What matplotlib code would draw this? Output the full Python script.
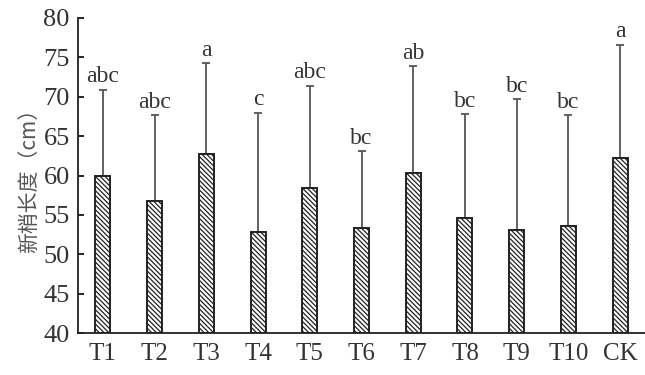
import matplotlib.pyplot as plt
import numpy as np

plt.rcParams['hatch.linewidth'] = 0.9

# 处理与数据
groups = ['T1', 'T2', 'T3', 'T4', 'T5', 'T6', 'T7', 'T8', 'T9', 'T10', 'CK']
means = [59.9, 56.8, 62.7, 52.8, 58.4, 53.3, 60.3, 54.6, 53.1, 53.6, 62.2]
err_top = [70.9, 67.7, 74.3, 68.0, 71.4, 63.1, 73.9, 67.8, 69.7, 67.7, 76.6]
letters = ['abc', 'abc', 'a', 'c', 'abc', 'bc', 'ab', 'bc', 'bc', 'bc', 'a']

serif = ['Liberation Serif', 'DejaVu Serif']
txt = '#333333'

fig = plt.figure(figsize=(6.45, 3.75), dpi=100)
ax = fig.add_axes([0.121, 0.112, 0.879, 0.840])

x = np.arange(len(groups))
means = np.array(means)
err = np.array(err_top) - means

ax.errorbar(x, means, yerr=[np.zeros_like(err), err], fmt='none',
            ecolor='#555555', elinewidth=1.3, capsize=3, capthick=1.3, zorder=1)
ax.bar(x, means - 40, bottom=40, width=0.29, color='white', edgecolor='#222222',
       linewidth=1.4, hatch='\\\\\\\\\\\\\\', zorder=2)

for xi, top, lab in zip(x, err_top, letters):
    ax.text(xi, top + 0.3, lab, ha='center', va='bottom', fontsize=17,
            family=serif, color=txt)

ax.set_xlim(-0.48, 10.48)
ax.set_ylim(40, 80)
ax.set_yticks(range(40, 81, 5))
ax.set_xticks(x)
ax.set_xticklabels(groups)

for s in ['top', 'right']:
    ax.spines[s].set_visible(False)
for s in ['left', 'bottom']:
    ax.spines[s].set_linewidth(1.3)
    ax.spines[s].set_color('#222222')

ax.tick_params(axis='y', direction='in', length=4, width=1.2, pad=6, labelsize=19,
               labelcolor=txt)
ax.tick_params(axis='x', length=0, pad=7, labelsize=18, labelcolor=txt)
for lab in ax.get_xticklabels() + ax.get_yticklabels():
    lab.set_family(serif)

ax.set_ylabel('新梢长度（cm）', fontsize=15, color='#555555',
              family=['Noto Sans CJK SC', 'DejaVu Sans'], labelpad=2)

fig.savefig('out.png', dpi=100)
